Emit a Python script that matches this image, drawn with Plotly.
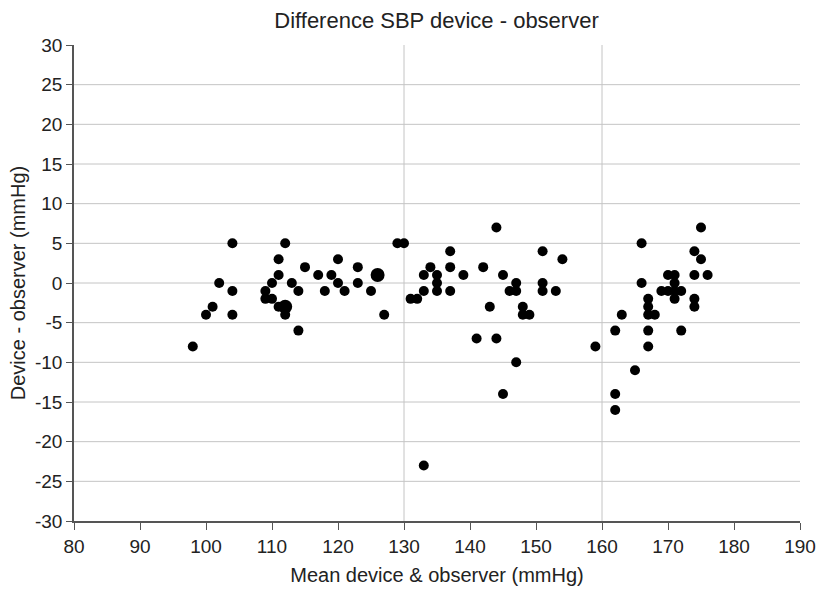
import plotly.graph_objects as go
from collections import Counter

# Mean of device & observer (mmHg)
mean_vals = [98, 100, 101, 102, 104, 104, 104,
             109, 109, 110, 110, 111, 111, 111, 112, 112, 112, 112, 113,
             114, 114, 115, 117, 118, 119, 120, 120, 121, 123, 123, 125, 126, 126, 127,
             129, 130, 131, 132, 133, 133, 133, 134, 135, 135, 135, 137, 137, 137, 139,
             141, 142, 143, 144, 144, 145, 145, 146, 147, 147, 147, 148, 148, 149,
             151, 151, 151, 153, 154,
             159, 162, 162, 162, 163, 165, 166, 166, 167, 167, 167, 167, 167, 168,
             169, 170, 170, 171, 171, 171, 171, 172, 172, 174, 174, 174, 174, 175, 175, 176]
# Difference device - observer (mmHg)
diff_vals = [-8, -4, -3, 0, 5, -1, -4,
             -1, -2, 0, -2, 3, 1, -3, 5, -3, -3, -4, 0,
             -1, -6, 2, 1, -1, 1, 3, 0, -1, 2, 0, -1, 1, 1, -4,
             5, 5, -2, -2, 1, -1, -23, 2, 1, 0, -1, 4, 2, -1, 1,
             -7, 2, -3, 7, -7, 1, -14, -1, 0, -1, -10, -3, -4, -4,
             4, 0, -1, -1, 3,
             -8, -6, -14, -16, -4, -11, 5, 0, -2, -3, -4, -6, -8, -4,
             -1, 1, -1, 1, 0, -1, -2, -1, -6, 4, 1, -2, -3, 7, 3, 1]

x_ticks = [80, 90, 100, 110, 120, 130, 140, 150, 160, 170, 180, 190]
y_ticks = [-30, -25, -20, -15, -10, -5, 0, 5, 10, 15, 20, 25, 30]
ref_lines_x = [130, 160]

counts = Counter(zip(mean_vals, diff_vals))
pts = list(counts.keys())
xs = [p[0] for p in pts]
ys = [p[1] for p in pts]
sizes = [10 if counts[p] == 1 else 14 for p in pts]

fig = go.Figure()
fig.add_trace(go.Scatter(x=xs, y=ys, mode="markers",
                         marker=dict(color="black", size=sizes, opacity=1, line=dict(width=0)),
                         showlegend=False, hoverinfo="x+y"))

shapes = []
for yv in y_ticks:
    if -30 < yv < 30:
        shapes.append(dict(type="line", xref="paper", yref="y", x0=0, x1=1, y0=yv, y1=yv,
                           line=dict(color="#c4c4c4", width=1), layer="below"))
for xv in ref_lines_x:
    shapes.append(dict(type="line", xref="x", yref="paper", x0=xv, x1=xv, y0=0, y1=1,
                       line=dict(color="#c4c4c4", width=1), layer="below"))

font_fam = "Liberation Sans, Arial, sans-serif"
fig.update_layout(
    width=819, height=589,
    margin=dict(l=74, r=19, t=45, b=68, autoexpand=False),
    paper_bgcolor="white", plot_bgcolor="white",
    font=dict(family=font_fam, size=19, color="#222222"),
    title=dict(text="Difference SBP device - observer", x=0.533, xanchor="center",
               y=0.966, yanchor="middle", font=dict(size=22, color="#222222")),
    shapes=shapes,
    xaxis=dict(range=[80, 190], tickvals=x_ticks, ticktext=[str(v) for v in x_ticks],
               showgrid=False, zeroline=False, automargin=False,
               showline=True, linecolor="#555555", linewidth=1.5,
               ticks="outside", ticklen=7, tickcolor="#555555", tickwidth=1,
               tickfont=dict(size=19),
               title=dict(text="Mean device & observer (mmHg)", standoff=12, font=dict(size=20))),
    yaxis=dict(range=[-30, 30], tickvals=y_ticks, ticktext=[str(v) for v in y_ticks],
               showgrid=False, zeroline=False, automargin=False,
               showline=True, linecolor="#555555", linewidth=1.5,
               ticks="outside", ticklen=6, tickcolor="#555555", tickwidth=1,
               tickfont=dict(size=19),
               title=dict(text="Device - observer (mmHg)", standoff=4, font=dict(size=20))),
)
fig.write_html("out.html", config={"displayModeBar": False},
               post_script="document.body.style.margin='0';document.body.style.overflow='hidden';")
